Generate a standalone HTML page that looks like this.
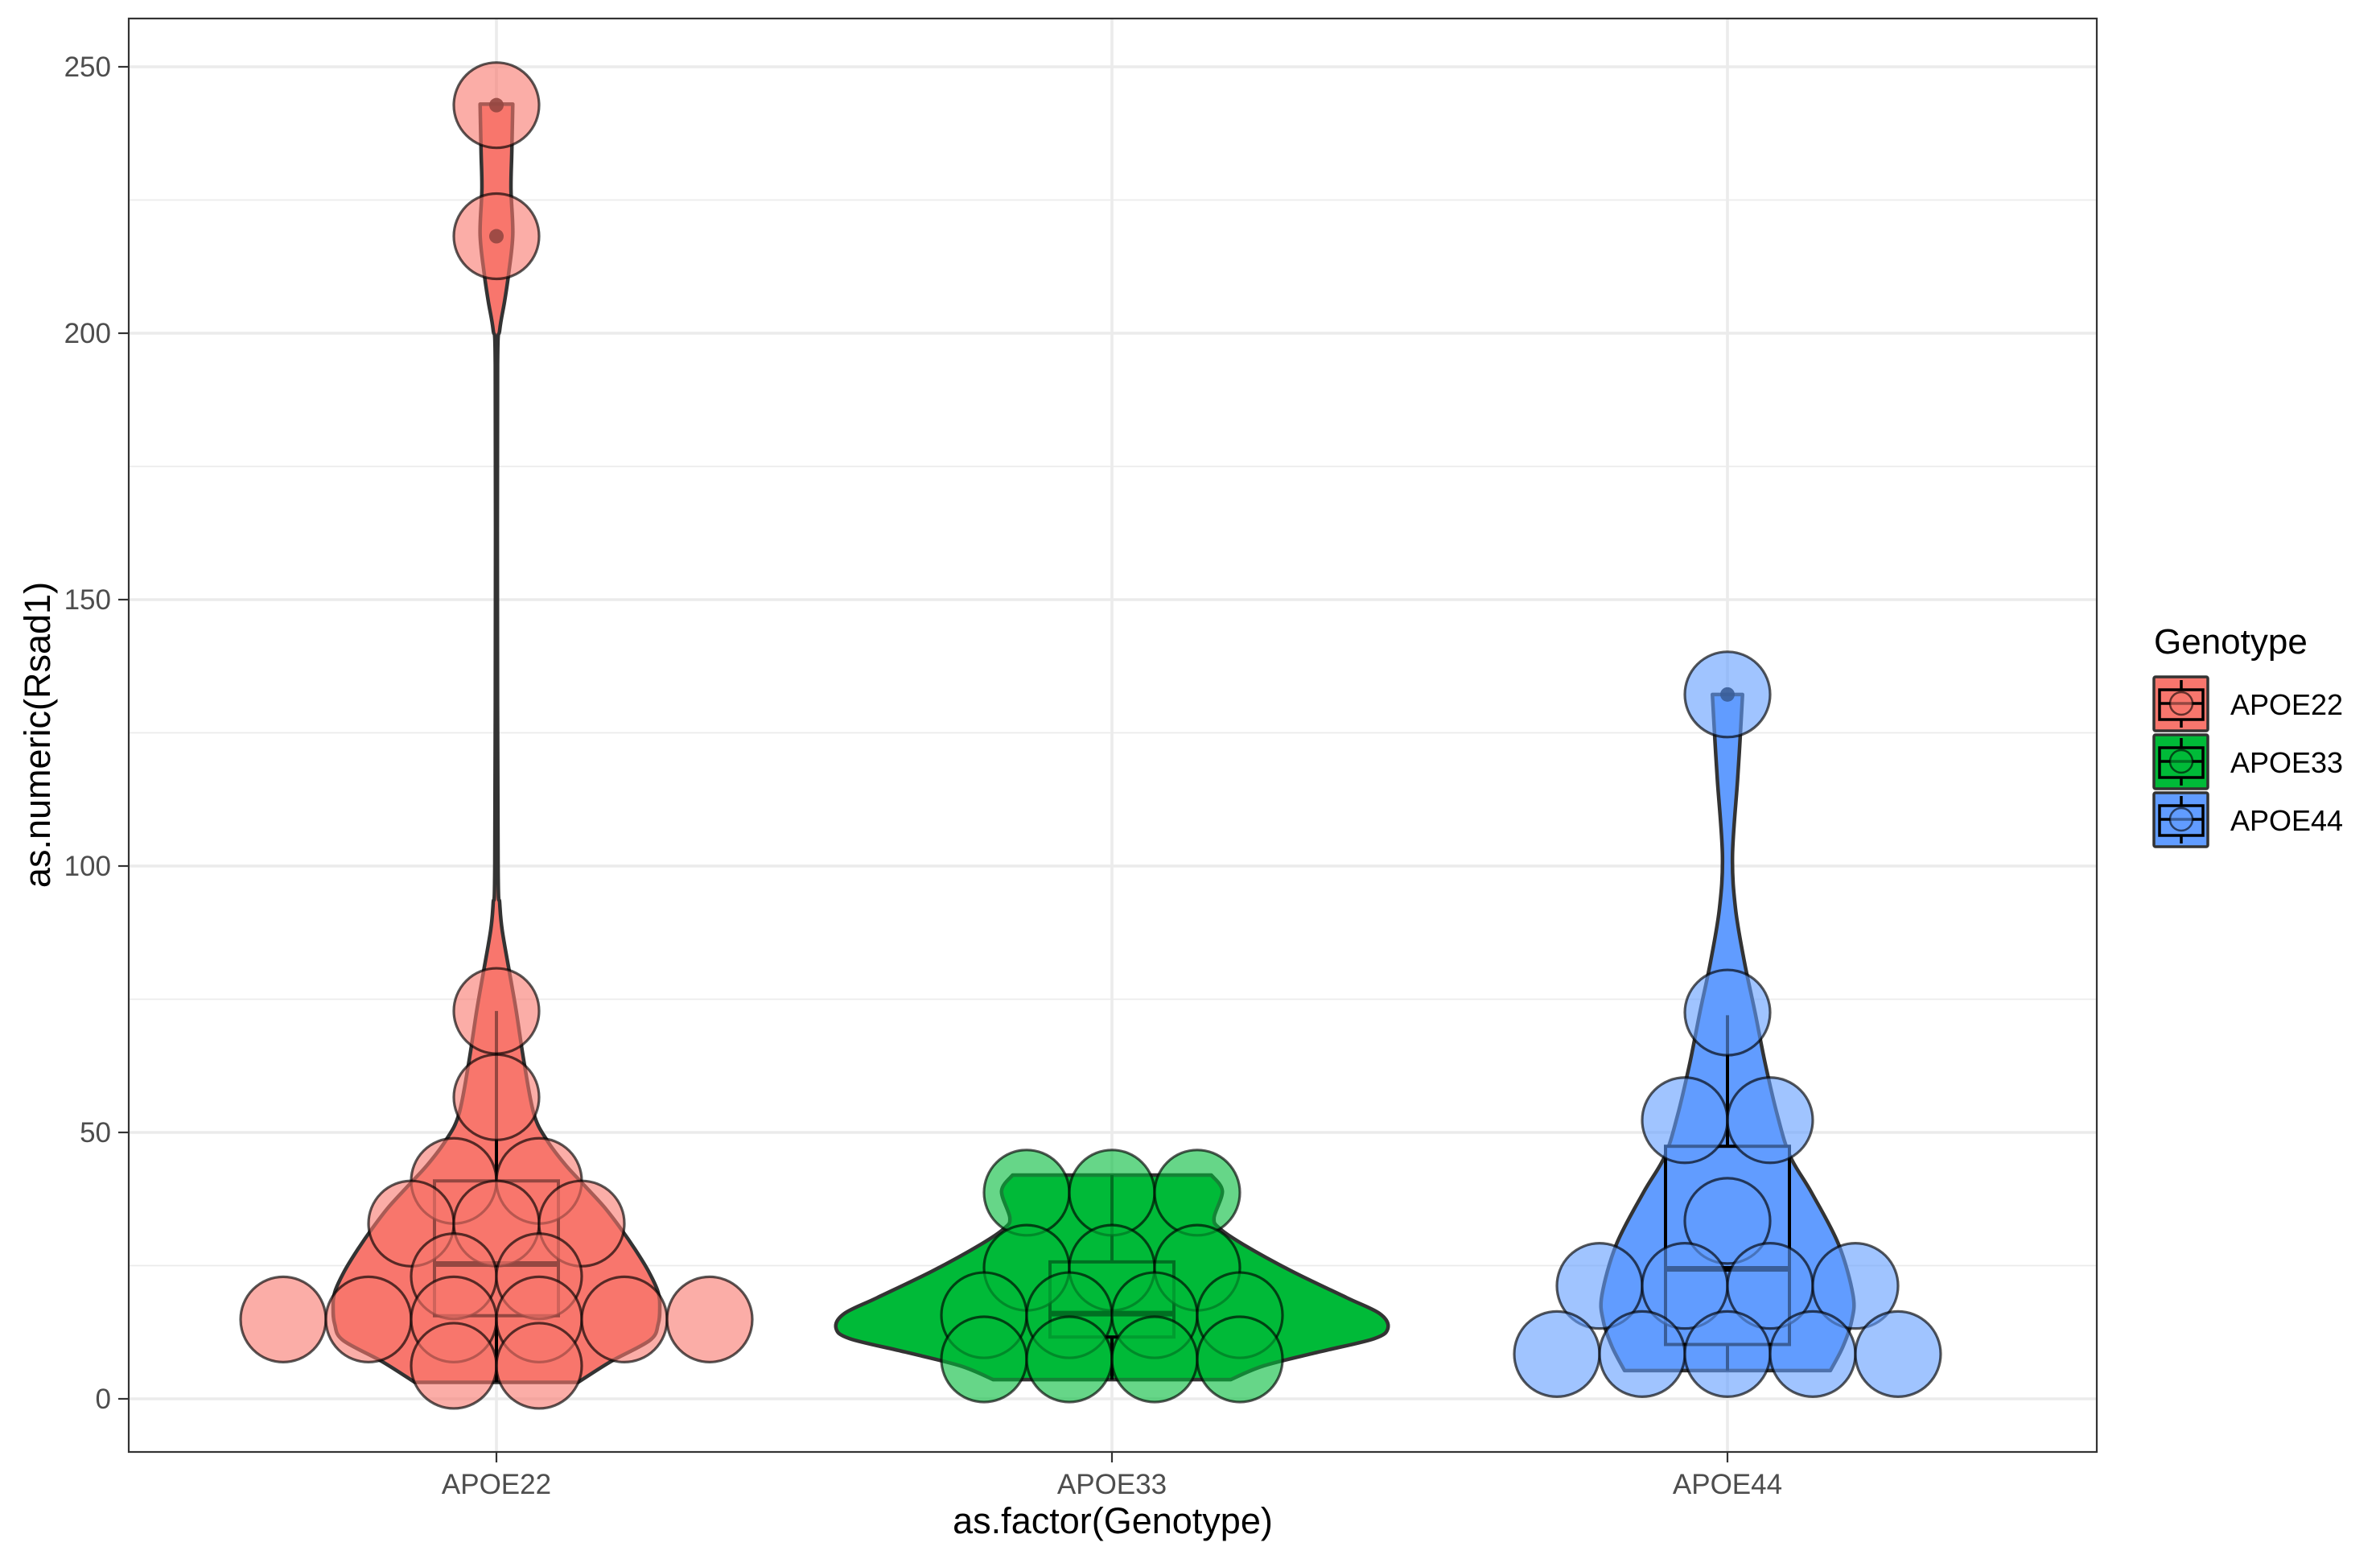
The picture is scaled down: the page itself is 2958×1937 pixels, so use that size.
<!DOCTYPE html>
<html><head><meta charset="utf-8"><style>
html,body{margin:0;padding:0;background:#fff;}
svg{display:block;font-family:"Liberation Sans",Arial,sans-serif;}
</style></head><body>
<svg id="chart" width="2958" height="1937" viewBox="0 0 2958 1937" xmlns="http://www.w3.org/2000/svg">
<rect x="0" y="0" width="2958" height="1937" fill="#fff"/>
<g id="grid"></g>
<g id="marks"></g>
<rect x="160" y="23" width="2446" height="1781" fill="none" stroke="#333" stroke-width="2.2"/>
<g id="axes"></g>
<text x="1383" y="1905" font-size="45" text-anchor="middle" fill="#000">as.factor(Genotype)</text>
<text transform="translate(62,913) rotate(-90)" font-size="45" text-anchor="middle" fill="#000">as.numeric(Rsad1)</text>
<g id="legend">
<text x="2677" y="812" font-size="44" fill="#000">Genotype</text>
</g>
</svg>
<script>
const categories = ["APOE22","APOE33","APOE44"];
const colors = ["#F8766D","#00BA38","#619CFF"];
const yTicks = [0,50,100,150,200,250];
const yMinor = [25,75,125,175,225];
const dots22 = [242.8,218.2,72.8,56.6,40.9,40.9,32.9,32.9,32.9,23,23,14.9,14.9,14.9,14.9,14.9,14.9,6.2,6.2];
const dots33 = [38.7,38.7,38.7,24.6,24.6,24.6,15.7,15.7,15.7,15.7,7.4,7.4,7.4,7.4];
const dots44 = [132.2,72.5,52.3,52.3,33.4,21.2,21.2,21.2,21.2,8.4,8.4,8.4,8.4,8.4];
const violinY22 = [3.1,7,11,14,17,20,24,28,32,36,40,44,48.5,53.4,63,73,80,88,93,100,150,194,200.6,206,211,218.5,227,234,243];
const violinD22 = [0.50,0.70,0.94,0.99,1,0.99,0.93,0.85,0.76,0.66,0.54,0.42,0.31,0.23,0.17,0.12,0.08,0.035,0.02,0.01,0.006,0.007,0.02,0.05,0.074,0.10,0.089,0.094,0.10];
const violinY33 = [3.6,6.2,8.8,11.3,13.3,16,19,24,29,32,34,39,42];
const violinD33 = [0.43,0.55,0.75,0.95,1,0.97,0.85,0.65,0.475,0.39,0.37,0.40,0.36];
const violinY44 = [5.3,9.8,14.7,19.5,29,38.7,45.5,53,63,72.5,82,92,102,116,123.6,132.2];
const violinD44 = [0.82,0.92,0.99,1,0.885,0.67,0.5,0.40,0.30,0.22,0.135,0.064,0.04,0.08,0.10,0.12];
const boxLow = [3.1,3.6,5.3];
const boxQ1 = [15.6,11.6,10.2];
const boxMed = [25.3,16,24.4];
const boxQ3 = [40.9,25.7,47.4];
const boxHigh = [72.8,42,72];
const outliers22 = [242.8,218.2];
const outliers33 = [];
const outliers44 = [132.2];

const NS="http://www.w3.org/2000/svg";
const PL=160, PR=2606, PT=23, PB=1804;
const Y0=1738, YU=6.62;
function yScale(v){return Y0 - v*YU;}
function xScale(i){return 617 + i*765;}
const violinMaxHW=[203,343,156];
const DOT_R=53, BOX_HW=77;
function mk(tag,attrs,parent){const e=document.createElementNS(NS,tag);for(const k in attrs)e.setAttribute(k,attrs[k]);parent.appendChild(e);return e;}

const grid=document.getElementById('grid');
yMinor.forEach(v=>{
  const l=mk('line',{x1:PL,x2:PR,y1:yScale(v),y2:yScale(v),stroke:'#ebebeb','stroke-width':1.8},grid);
  
  
});
yTicks.forEach(v=>{
  const l=mk('line',{x1:PL,x2:PR,y1:yScale(v),y2:yScale(v),stroke:'#ebebeb','stroke-width':3.6},grid);
  
  
});
categories.forEach((c,i)=>{
  const l=mk('line',{x1:xScale(i),x2:xScale(i),y1:PT,y2:PB,stroke:'#ebebeb','stroke-width':3.6},grid);
  
  
});

const axes=document.getElementById('axes');
yTicks.forEach(v=>{
  const t=mk('line',{x1:147,x2:160,y1:yScale(v),y2:yScale(v),stroke:'#333','stroke-width':2.2},axes);
  
  
  const tx=mk('text',{x:138,y:yScale(v)+12,'font-size':35,'text-anchor':'end',fill:'#4d4d4d'},axes);
  tx.textContent=v;
  
  
});
categories.forEach((c,i)=>{
  const t=mk('line',{x1:xScale(i),x2:xScale(i),y1:PB,y2:PB+13,stroke:'#333','stroke-width':2.2},axes);
  
  
  const tx=mk('text',{x:xScale(i),y:1856,'font-size':35,'text-anchor':'middle',fill:'#4d4d4d'},axes);
  tx.textContent=c;
  
  
});

function smoothSide(pts){
  let d='';
  for(let i=0;i<pts.length-1;i++){
    const p0=pts[Math.max(0,i-1)],p1=pts[i],p2=pts[i+1],p3=pts[Math.min(pts.length-1,i+2)];
    const c1=[p1[0]+(p2[0]-p0[0])/6,p1[1]+(p2[1]-p0[1])/6];
    const c2=[p2[0]-(p3[0]-p1[0])/6,p2[1]-(p3[1]-p1[1])/6];
    d+=` C${c1[0]},${c1[1]} ${c2[0]},${c2[1]} ${p2[0]},${p2[1]}`;
  }
  return d;
}
const marks=document.getElementById('marks');
const violinsY=[violinY22,violinY33,violinY44], violinsD=[violinD22,violinD33,violinD44];
const dotsAll=[dots22,dots33,dots44], outAll=[outliers22,outliers33,outliers44];

categories.forEach((c,i)=>{
  const cx=xScale(i), ys=violinsY[i], ds=violinsD[i], mw=violinMaxHW[i];
  const right=ys.map((v,k)=>[cx+ds[k]*mw,yScale(v)]);
  const left=ys.map((v,k)=>[cx-ds[k]*mw,yScale(v)]).reverse();
  let d=`M${right[0][0]},${right[0][1]}`+smoothSide(right)+` L${left[0][0]},${left[0][1]}`+smoothSide(left)+' Z';
  const vp=mk('path',{d:d,fill:colors[i],stroke:'#333','stroke-width':4.5,'stroke-linejoin':'round'},marks);
  
  
});
categories.forEach((c,i)=>{
  const cx=xScale(i);
  const g=mk('g',{},marks);
  
  
  mk('line',{x1:cx,x2:cx,y1:yScale(boxHigh[i]),y2:yScale(boxQ3[i]),stroke:'#000','stroke-width':4},g);
  mk('line',{x1:cx,x2:cx,y1:yScale(boxQ1[i]),y2:yScale(boxLow[i]),stroke:'#000','stroke-width':4},g);
  mk('rect',{x:cx-BOX_HW,y:yScale(boxQ3[i]),width:2*BOX_HW,height:yScale(boxQ1[i])-yScale(boxQ3[i]),fill:colors[i],stroke:'#000','stroke-width':4},g);
  mk('line',{x1:cx-BOX_HW,x2:cx+BOX_HW,y1:yScale(boxMed[i]),y2:yScale(boxMed[i]),stroke:'#000','stroke-width':7},g);
  outAll[i].forEach(v=>{
    const o=mk('circle',{cx:cx,cy:yScale(v),r:9,fill:'#000','fill-opacity':0.9},g);
    
    
  });
});
categories.forEach((c,i)=>{
  const cx=xScale(i), vals=dotsAll[i];
  const counts={};
  vals.forEach(v=>{counts[v]=(counts[v]||0)+1;});
  const seen={};
  vals.forEach(v=>{
    const n=counts[v], k=(seen[v]=(seen[v]||0)+1)-1;
    const off=(k-(n-1)/2)*2*DOT_R;
    const dot=mk('circle',{cx:cx+off,cy:yScale(v),r:DOT_R,fill:colors[i],'fill-opacity':0.6,stroke:'#000','stroke-opacity':0.65,'stroke-width':3.2},marks);
    
    
  });
});

const legend=document.getElementById('legend');
categories.forEach((c,i)=>{
  const top=840+i*72, lx=2676;
  const g=mk('g',{},legend);
  
  
  mk('rect',{x:lx+1,y:top+1,width:67,height:67,fill:colors[i],stroke:'#333','stroke-width':3.5,rx:2},g);
  mk('line',{x1:lx+35,x2:lx+35,y1:top+5,y2:top+64,stroke:'#000','stroke-width':3.5},g);
  mk('rect',{x:lx+8,y:top+17,width:54,height:37,fill:colors[i],stroke:'#000','stroke-width':3.5},g);
  mk('line',{x1:lx+8,x2:lx+62,y1:top+34,y2:top+34,stroke:'#000','stroke-width':3.5},g);
  mk('circle',{cx:lx+35,cy:top+34,r:14,fill:colors[i],'fill-opacity':0.6,stroke:'#000','stroke-opacity':0.6,'stroke-width':2.5},g);
  const t=mk('text',{x:2772,y:top+48,'font-size':36,fill:'#000'},g);
  t.textContent=c;
  
  
});
</script>
</body></html>
